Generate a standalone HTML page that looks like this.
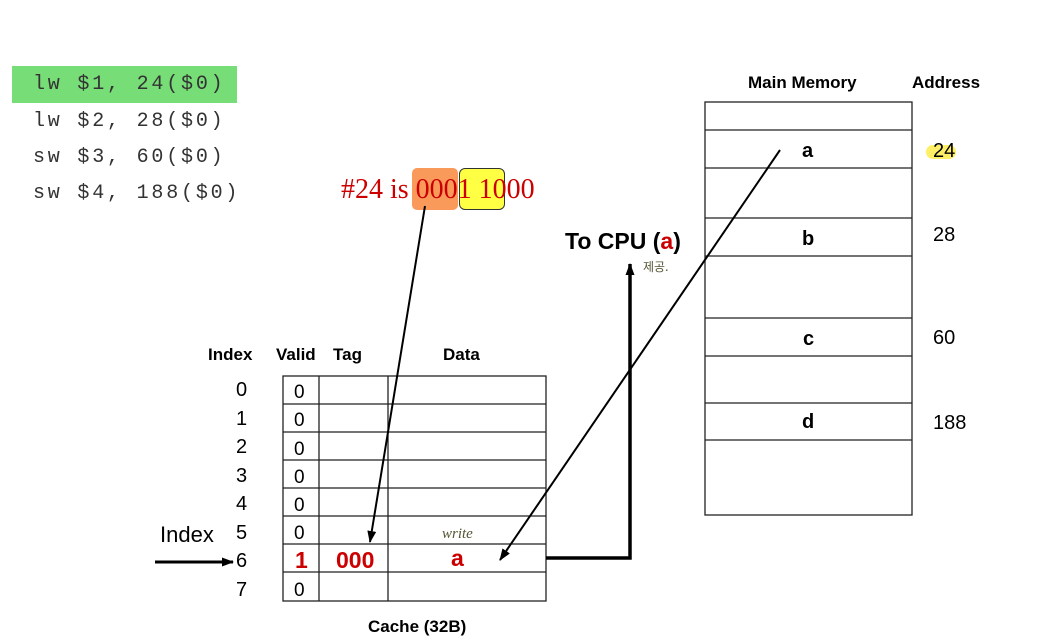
<!DOCTYPE html><html><head><meta charset="utf-8"><style>
body{margin:0;background:#fff;width:1037px;height:644px;overflow:hidden;position:relative;font-family:"Liberation Sans",sans-serif}
.t{position:absolute;white-space:nowrap}
.code{font-family:"Liberation Mono",monospace;font-size:20px;color:#333;left:33px;letter-spacing:2.8px}
.b{font-weight:bold}
</style></head><body>
<div class="t" style="left:12px;top:66px;width:225px;height:37px;background:#77dd77"></div>
<div class="t code" style="top:73px">lw $1, 24($0)</div>
<div class="t code" style="top:110px">lw $2, 28($0)</div>
<div class="t code" style="top:146px">sw $3, 60($0)</div>
<div class="t code" style="top:182px">sw $4, 188($0)</div>
<div class="t" style="left:412px;top:168px;width:46px;height:42px;background:#fa9a5a;border-radius:5px"></div>
<div class="t" style="left:459px;top:168px;width:46px;height:42px;background:#ffff44;border:1px solid #333;border-radius:6px;box-sizing:border-box"></div>
<div class="t" style="left:341px;top:174px;font-family:'Liberation Serif',serif;font-size:28px;color:#c00">#24 is 0001 1000</div>
<div class="t b" style="left:565px;top:228px;font-size:23px">To CPU (<span style="color:#c00">a</span>)</div>
<div class="t" style="left:643px;top:258px;font-size:12px;color:#553;font-family:'Noto Sans CJK KR',sans-serif">제공.</div>
<div class="t b" style="left:748px;top:73px;font-size:17px">Main Memory</div>
<div class="t b" style="left:912px;top:73px;font-size:17px">Address</div>
<div class="t" style="left:926px;top:145px;width:30px;height:14px;background:#ffef66;border-radius:7px"></div>
<div class="t" style="left:933px;top:140px;font-size:20px">24</div>
<div class="t" style="left:933px;top:224px;font-size:20px">28</div>
<div class="t" style="left:933px;top:327px;font-size:20px">60</div>
<div class="t" style="left:933px;top:412px;font-size:20px">188</div>
<div class="t b" style="left:802px;top:140px;font-size:20px">a</div>
<div class="t b" style="left:802px;top:228px;font-size:20px">b</div>
<div class="t b" style="left:803px;top:328px;font-size:20px">c</div>
<div class="t b" style="left:802px;top:411px;font-size:20px">d</div>
<div class="t b" style="left:208px;top:345px;font-size:17px">Index</div>
<div class="t b" style="left:276px;top:345px;font-size:17px">Valid</div>
<div class="t b" style="left:333px;top:345px;font-size:17px">Tag</div>
<div class="t b" style="left:443px;top:345px;font-size:17px">Data</div>
<div class="t b" style="left:368px;top:617px;font-size:17px">Cache (32B)</div>
<div class="t" style="left:160px;top:522px;font-size:22px">Index</div>
<div class="t" style="left:236px;top:376px;font-size:20px;line-height:28.5px">0<br>1<br>2<br>3<br>4<br>5<br>6<br>7</div>
<div class="t" style="left:294px;top:379px;font-size:19px;line-height:28.3px">0<br>0<br>0<br>0<br>0<br>0<br>&nbsp;<br>0</div>
<div class="t b" style="left:295px;top:547px;font-size:23px;color:#c00">1</div>
<div class="t b" style="left:336px;top:547px;font-size:23px;color:#c00">000</div>
<div class="t b" style="left:451px;top:545px;font-size:23px;color:#c00">a</div>
<div class="t" style="left:442px;top:526px;font-size:15px;font-style:italic;color:#553;font-family:'Liberation Serif',serif">write</div>
<svg width="1037" height="644" style="position:absolute;left:0;top:0">
<defs><marker id="ar" markerWidth="12" markerHeight="9" refX="11" refY="4.5" orient="auto" markerUnits="userSpaceOnUse"><path d="M0,0L12,4.5L0,9z" fill="#000"/></marker></defs>
<g stroke="#222" stroke-width="1.3" fill="none">
<rect x="283" y="376" width="263" height="225"/>
<line x1="319" y1="376" x2="319" y2="601"/><line x1="388" y1="376" x2="388" y2="601"/>
<line x1="283" y1="404" x2="546" y2="404"/><line x1="283" y1="432" x2="546" y2="432"/><line x1="283" y1="460" x2="546" y2="460"/><line x1="283" y1="488" x2="546" y2="488"/><line x1="283" y1="516" x2="546" y2="516"/><line x1="283" y1="544" x2="546" y2="544"/><line x1="283" y1="572" x2="546" y2="572"/>
<rect x="705" y="102" width="207" height="413"/>
<line x1="705" y1="130" x2="912" y2="130"/><line x1="705" y1="168" x2="912" y2="168"/><line x1="705" y1="218" x2="912" y2="218"/><line x1="705" y1="256" x2="912" y2="256"/><line x1="705" y1="318" x2="912" y2="318"/><line x1="705" y1="356" x2="912" y2="356"/><line x1="705" y1="403" x2="912" y2="403"/><line x1="705" y1="440" x2="912" y2="440"/>
</g>
<g stroke="#000" fill="none">
<line x1="425" y1="206" x2="370" y2="542" stroke-width="2" marker-end="url(#ar)"/>
<line x1="780" y1="150" x2="500" y2="560" stroke-width="2" marker-end="url(#ar)"/>
<line x1="155" y1="562" x2="233" y2="562" stroke-width="3" marker-end="url(#ar)"/>
<polyline points="546,558 630,558 630,264" stroke-width="3.5" marker-end="url(#ar)"/>
</g>
</svg>
</body></html>
